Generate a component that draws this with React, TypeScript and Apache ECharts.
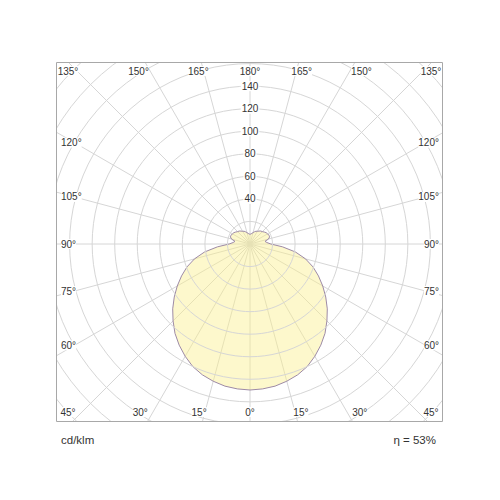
import React from "react";
import * as echarts from "echarts";

// ---------- data ----------
// vertical angle gamma (deg), 0 = straight down, 180 = straight up
const GAMMA = [
  0, 5, 10, 15, 20, 25, 30, 35, 40, 45, 50, 55, 60, 65, 70, 75, 80, 85, 90,
  95, 100, 105, 110, 115, 120, 125, 130, 135, 140, 145, 150, 155, 160, 165, 170, 175, 180,
];
// luminous intensity, cd/klm (same curve in C0 and C180 halves)
const INTENSITY = [
  129.5, 129, 128, 126, 123.5, 120, 115, 109.5, 103.5, 96.5, 89.5, 82, 74.5, 67, 59.5, 51, 41, 29, 18.5,
  15, 13.5, 17, 18.5, 18.5, 18, 17.5, 16.5, 15.5, 15, 14, 13, 12.5, 11.5, 10.5, 9.5, 9, 8.5,
];
const ANGLE_LABELS = [0, 15, 30, 45, 60, 75, 90, 105, 120, 135, 150, 165, 180];
const RADIUS_LABELS = [40, 60, 80, 100, 120, 140];
const UNIT = "cd/klm";
const EFFICIENCY = "η = 53%";

// ---------- layout ----------
const CX = 250;
const CY = 244;
const PX_PER_UNIT = 22.55 / 20;
const R_MAX = 240;
const FRAME = { l: 57, t: 63, r: 443, b: 422 };
const FONT = "'Liberation Sans', Arial, sans-serif";
const TXT = "#333";

function angleLabelPos(g: number, side: 1 | -1) {
  const rad = (g * Math.PI) / 180;
  const dx = side * Math.sin(rad);
  const dy = Math.cos(rad);
  const tx = Math.abs(dx) > 1e-6 ? (CX - FRAME.l) / Math.abs(dx) : Infinity;
  const ty = dy > 1e-6 ? (FRAME.b - CY) / dy : dy < -1e-6 ? (CY - FRAME.t) / -dy : Infinity;
  if (tx < ty) {
    const t = (CX - FRAME.l - 17.5) / Math.abs(dx);
    const y = Math.min(412, Math.max(71, CY + dy * t));
    return side < 0
      ? { x: FRAME.l + 4, y, align: "left" }
      : { x: FRAME.r - 4, y, align: "right" };
  }
  const top = dy < 0;
  const t = top ? (CY - FRAME.t + 12) / -dy : (FRAME.b - CY + 12) / dy;
  const x = Math.min(FRAME.r - 12, Math.max(FRAME.l + 11, CX + dx * t));
  return { x, y: top ? 71 : 412, align: "center" };
}

export default function App() {
  const ref = React.useRef<HTMLDivElement>(null);

  React.useEffect(() => {
    const el = ref.current;
    if (!el) return;
    const chart = echarts.init(el, undefined, { renderer: "svg" });

    // right half (angle 0..180 clockwise from up), then left half (180..360)
    const curve: number[][] = [];
    for (let i = GAMMA.length - 1; i >= 0; i--) curve.push([INTENSITY[i], 180 - GAMMA[i]]);
    for (let i = 0; i < GAMMA.length; i++) curve.push([INTENSITY[i], 180 + GAMMA[i]]);

    const masks = [
      { x: 0, y: 0, width: 500, height: FRAME.t },
      { x: 0, y: FRAME.b, width: 500, height: 500 - FRAME.b },
      { x: 0, y: 0, width: FRAME.l, height: 500 },
      { x: FRAME.r, y: 0, width: 500 - FRAME.r, height: 500 },
    ].map((s) => ({ type: "rect", shape: s, style: { fill: "#fff" }, z: 100, silent: true }));

    const angleTexts: any[] = [];
    ANGLE_LABELS.forEach((g) => {
      const sides: (1 | -1)[] = g === 0 || g === 180 ? [1] : [-1, 1];
      sides.forEach((s) => {
        const p = angleLabelPos(g, s);
        angleTexts.push({
          type: "text",
          x: p.x,
          y: p.y,
          z: 102,
          silent: true,
          style: {
            text: `${g}°`,
            fill: TXT,
            fontSize: 10,
            fontFamily: FONT,
            align: p.align,
            verticalAlign: "middle",
            backgroundColor: "#fff",
          },
        });
      });
    });

    chart.setOption({
      animation: false,
      backgroundColor: "#fff",
      polar: { center: [CX, CY], radius: R_MAX * PX_PER_UNIT },
      angleAxis: {
        type: "value",
        min: 0,
        max: 360,
        interval: 15,
        startAngle: 90,
        clockwise: true,
        axisLine: { show: false },
        axisTick: { show: false },
        axisLabel: { show: false },
        splitLine: { lineStyle: { color: "#d6d6d6", width: 1 } },
      },
      radiusAxis: {
        type: "value",
        min: 0,
        max: R_MAX,
        interval: 20,
        axisLine: { show: false },
        axisTick: { show: false },
        splitLine: { lineStyle: { color: "#d6d6d6", width: 1 } },
        axisLabel: {
          formatter: (v: number) => (RADIUS_LABELS.includes(v) ? String(v) : ""),
          color: TXT,
          fontSize: 10,
          fontFamily: FONT,
          margin: 0,
          align: "center",
          verticalAlign: "middle",
          backgroundColor: "#fff",
          padding: [0, 1],
        },
        z: 5,
      },
      series: [
        {
          type: "line",
          coordinateSystem: "polar",
          data: curve,
          showSymbol: false,
          smooth: false,
          lineStyle: { color: "#9d8aa6", width: 1 },
          areaStyle: { color: "#fbf08f", opacity: 0.45 },
          z: 2,
        },
      ],
      graphic: [
        ...masks,
        {
          type: "rect",
          shape: { x: FRAME.l - 0.5, y: FRAME.t - 0.5, width: FRAME.r - FRAME.l, height: FRAME.b - FRAME.t },
          style: { fill: "none", stroke: "#a8a8a8", lineWidth: 1 },
          z: 101,
          silent: true,
        },
        ...angleTexts,
        {
          type: "text",
          x: FRAME.l + 4,
          y: 440,
          z: 102,
          style: { text: UNIT, fill: TXT, fontSize: 11.5, fontFamily: FONT, align: "left", verticalAlign: "middle" },
        },
        {
          type: "text",
          x: FRAME.r - 7,
          y: 440,
          z: 102,
          style: { text: EFFICIENCY, fill: TXT, fontSize: 11.5, fontFamily: FONT, align: "right", verticalAlign: "middle" },
        },
      ],
    });
    return () => chart.dispose();
  }, []);

  return (
    <div
      ref={ref}
      style={{ position: "fixed", left: 0, top: 0, width: 500, height: 500, background: "#fff" }}
    />
  );
}
